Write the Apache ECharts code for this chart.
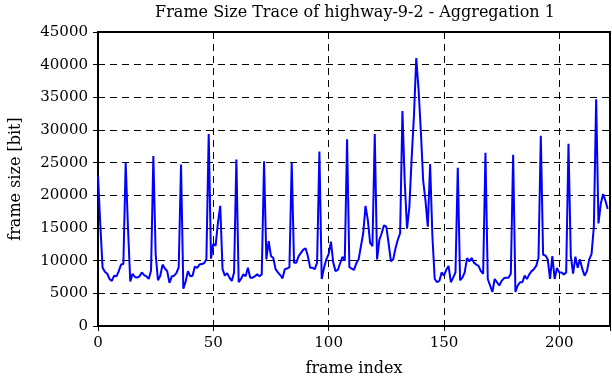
<!DOCTYPE html>
<html>
<head>
<meta charset="utf-8">
<script src="https://cdn.jsdelivr.net/npm/echarts@6/dist/echarts.min.js"></script>
<style>
html,body{margin:0;padding:0;background:#fff;}
#chart{width:612px;height:382px;}
</style>
</head>
<body>
<div id="chart"></div>
<script>
var titleText = "Frame Size Trace of highway-9-2 - Aggregation 1";
var xAxisName = "frame index";
var yAxisName = "frame size [bit]";
var xTicks = [0, 50, 100, 150, 200];
var yTicks = [0, 5000, 10000, 15000, 20000, 25000, 30000, 35000, 40000, 45000];

var frameSizes = [
 23000,15500,8900,8300,8000,7200,6900,7700,7600,8400,
 9400,9500,25000,15000,6800,8000,7500,7400,7600,8200,
 7800,7600,7200,8500,26000,11000,7000,7700,9400,8800,
 8400,6600,7600,7700,8100,9000,24700,5700,6800,8400,
 7600,7700,9100,8900,9400,9500,9600,10200,29400,10300,
 12600,12300,15800,18400,8700,7700,8100,7400,6900,8200,
 25500,6700,7200,7900,7600,8900,7400,7400,7600,7900,
 7600,7900,25200,10200,13000,10700,10400,8700,8200,7800,
 7300,8700,8800,9000,25000,9700,9700,10700,11200,11700,
 11900,10700,8900,8900,8700,9700,26700,7200,8900,10200,
 11000,12900,9700,8400,8600,9600,10600,10000,28600,9000,
 8800,8600,9600,10200,12200,14200,18400,16200,12700,12200,
 29400,10200,13200,14200,15400,15200,12700,9900,10200,11900,
 13200,14200,32900,22000,14900,18200,25700,32200,41000,36200,
 29700,22200,19200,15200,24800,13700,7200,6700,6900,8200,
 7700,8600,9200,6700,7400,8200,24200,7000,7400,8200,
 10400,9900,10400,9700,9400,9200,8400,8000,26500,7200,
 6200,5200,7200,6700,6200,6900,7300,7400,7400,8000,
 26200,5200,6200,6700,6700,7700,7200,7900,8400,8700,
 9200,10400,29100,10900,10800,10200,7200,10700,7200,8900,
 8200,8200,7900,8200,27900,10700,8000,10600,8900,10200,
 8700,7700,8400,10200,11000,15200,34700,15700,18700,20200,
 19200,17900
];

var seriesData = frameSizes.map(function(v, i){ return [i, v]; });

var FONT = "DejaVu Serif";
var dash = {color:'#000', width:1, type:[7,5]};

var chart = echarts.init(document.getElementById('chart'), null, {renderer:'canvas'});
chart.setOption({
  animation:false,
  backgroundColor:'#fff',
  title:{
    text:titleText,
    left:350, top:0, textAlign:'center',
    textStyle:{fontFamily:FONT, fontSize:16, fontWeight:'normal', color:'#000'}
  },
  grid:{left:92, right:2, top:32, bottom:51, show:true, borderColor:'#000', borderWidth:2, backgroundColor:'transparent'},
  xAxis:[{
    type:'value', min:0, max:222, interval:50,
    name:xAxisName, nameLocation:'middle', nameGap:35,
    nameTextStyle:{fontFamily:FONT, fontSize:16, color:'#000'},
    axisLine:{show:true, lineStyle:{color:'#000', width:2}},
    axisTick:{show:true, inside:true, length:5, lineStyle:{color:'#000', width:1}},
    axisLabel:{fontFamily:FONT, fontSize:15, color:'#000', margin:10, showMaxLabel:false,
      formatter:function(v){ return xTicks.indexOf(v) >= 0 ? String(v) : ''; }},
    splitLine:{show:true, lineStyle:dash}
  },{
    type:'value', min:0, max:222, interval:50, position:'top',
    axisLine:{show:true, lineStyle:{color:'#000', width:2}},
    axisTick:{show:true, inside:true, length:5, lineStyle:{color:'#000', width:1}},
    axisLabel:{show:false}, splitLine:{show:false}
  }],
  yAxis:[{
    type:'value', min:0, max:45000, interval:5000,
    name:yAxisName, nameLocation:'middle', nameGap:74, nameRotate:90,
    nameTextStyle:{fontFamily:FONT, fontSize:16, color:'#000'},
    axisLine:{show:true, lineStyle:{color:'#000', width:2}},
    axisTick:{show:true, inside:true, length:5, lineStyle:{color:'#000', width:1}},
    axisLabel:{fontFamily:FONT, fontSize:15, color:'#000', margin:10,
      formatter:function(v){ return yTicks.indexOf(v) >= 0 ? String(v) : ''; }},
    splitLine:{show:true, lineStyle:dash}
  },{
    type:'value', min:0, max:45000, interval:5000, position:'right',
    axisLine:{show:true, lineStyle:{color:'#000', width:2}},
    axisTick:{show:true, inside:true, length:5, lineStyle:{color:'#000', width:1}},
    axisLabel:{show:false}, splitLine:{show:false}
  }],
  series:[{
    type:'line', data:seriesData, xAxisIndex:0, yAxisIndex:0,
    showSymbol:false, symbol:'none',
    lineStyle:{color:'#0000ff', width:2},
    z:3
  }]
});
</script>
</body>
</html>
